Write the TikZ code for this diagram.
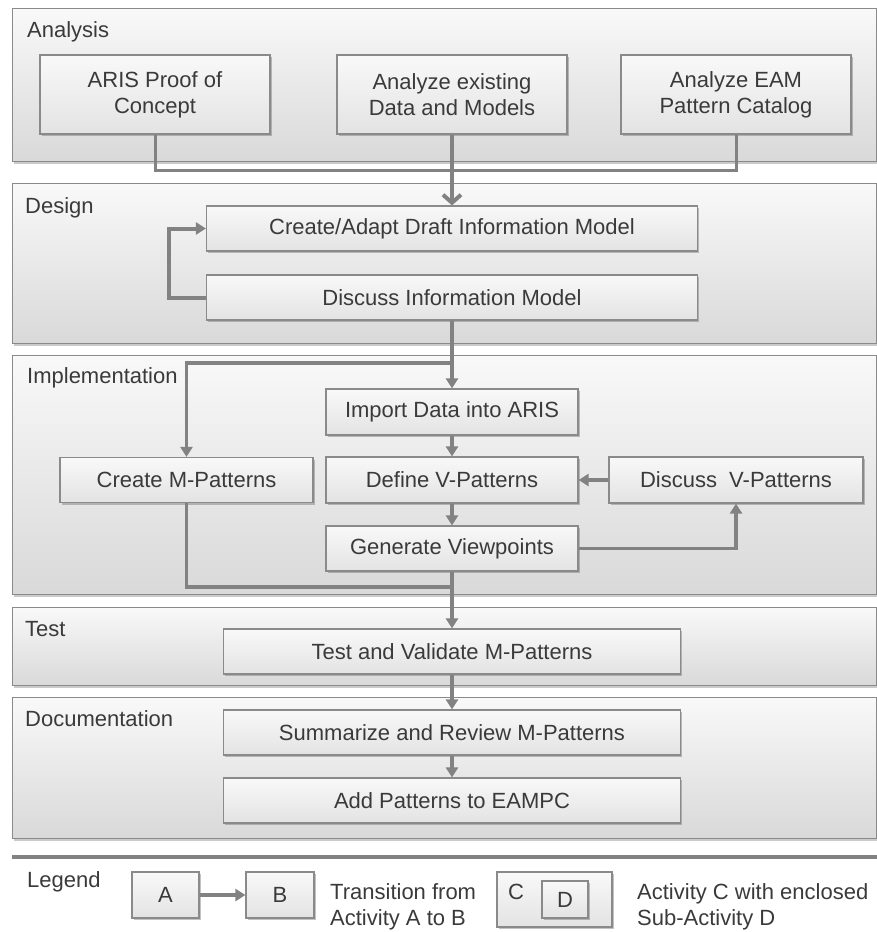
\documentclass[tikz,border=0pt]{standalone}
\usepackage{fontspec}
\setmainfont{Liberation Sans}
\usepackage{tikz}
\usetikzlibrary{arrows.meta, positioning, shadows, calc}
\definecolor{txt}{HTML}{3A3A3A}
\definecolor{wire}{HTML}{828282}
\definecolor{rim}{HTML}{8A8A8A}

\begin{document}
\begin{tikzpicture}[
  x=1pt, y=-1pt,
  font=\fontsize{22}{26}\selectfont,
  lane/.style={draw=rim, line width=1.4pt, top color=gray!5, bottom color=gray!30,
               anchor=north west, inner sep=0pt,
               drop shadow={shadow xshift=1.5pt, shadow yshift=-2pt, opacity=.35, fill=black!60}},
  lanetitle/.style={anchor=base west, inner sep=0pt, text=txt},
  act/.style={draw=rim, line width=1.2pt, top color=gray!5, bottom color=gray!22,
              align=center, inner sep=0pt, text=txt,
              drop shadow={shadow xshift=1.5pt, shadow yshift=-2pt, opacity=.4, fill=black!60}},
  flow/.style={draw=wire, line width=3.5pt, -{Triangle[length=10pt, width=12pt]}},
  link/.style={draw=wire, line width=3pt},
  note/.style={anchor=west, inner sep=0pt, align=left, text=txt}
]
\useasboundingbox (0,0) rectangle (877,932);

% phases
\node[lane, minimum width=864pt, minimum height=153pt] (ana) at (12,8)   {};
\node[lane, minimum width=864pt, minimum height=160pt] (des) at (12,183) {};
\node[lane, minimum width=864pt, minimum height=239pt] (imp) at (12,355) {};
\node[lane, minimum width=864pt, minimum height=78pt]  (tst) at (12,607) {};
\node[lane, minimum width=864pt, minimum height=141pt] (doc) at (12,697) {};

\node[lanetitle] (anaT) at (27,37)  {Analysis};
\node[lanetitle] (desT) at (25,213) {Design};
\node[lanetitle] (impT) at (27,383) {Implementation};
\node[lanetitle] (tstT) at (25,636) {Test};
\node[lanetitle] (docT) at (25,726) {Documentation};

% analysis
\node[act, minimum width=230pt, minimum height=79pt] (proof) at (155,94.5) {ARIS Proof of\\Concept};
\node[act, minimum width=230pt, minimum height=79pt] (exist) at (452,94.5) {Analyze existing\\Data and Models};
\node[act, minimum width=230pt, minimum height=79pt] (eam)   at (736,94.5) {Analyze EAM\\Pattern Catalog};

% design
\node[act, minimum width=491pt, minimum height=45pt] (draft) at (452,228.5) {Create/Adapt Draft Information Model};
\node[act, minimum width=491pt, minimum height=45pt] (discm) at (452,297.5) {Discuss Information Model};

% implementation
\node[act, minimum width=252pt, minimum height=46pt] (import) at (452,412)   {Import Data into ARIS};
\node[act, minimum width=252pt, minimum height=46pt] (vdef)   at (452,480)   {Define V-Patterns};
\node[act, minimum width=253pt, minimum height=45pt] (mpat)   at (186.5,480) {Create M-Patterns};
\node[act, minimum width=254pt, minimum height=46pt] (vdisc)  at (736,480)   {Discuss\ \ V-Patterns};
\node[act, minimum width=252pt, minimum height=45pt] (gen)    at (452,548.5) {Generate Viewpoints};

% test and documentation
\node[act, minimum width=457pt, minimum height=45pt] (test) at (452,651.5) {Test and Validate M-Patterns};
\node[act, minimum width=457pt, minimum height=45pt] (summ) at (452,732.5) {Summarize and Review M-Patterns};
\node[act, minimum width=457pt, minimum height=45pt] (addp) at (452,800.5) {Add Patterns to EAMPC};

% transitions
\coordinate (join)  at (452,170);
\coordinate (split) at (452,363);
\coordinate (merge) at (452,587);

\draw[link] (proof.south) |- (join) -| (eam.south);
\draw[flow, -{Straight Barb[length=8pt, width=18pt]}, line width=4pt] (exist.south) -- (draft.north);
\draw[flow, line width=4pt] (discm.west) -- ++(-37,0) |- (draft.west);

\draw[flow] (discm.south) -- (import.north);
\draw[flow] (split) -| (mpat.north);
\draw[flow] (import) -- (vdef);
\draw[flow] (vdef) -- (gen);
\draw[flow] (vdisc) -- (vdef);
\draw[flow] (gen.east) -| (vdisc.south);
\draw[link, line width=3.5pt] (mpat.south) |- (merge);
\draw[flow] (gen.south) -- (test.north);

\draw[flow] (test) -- (summ);
\draw[flow] (summ) -- (addp);

% legend
\coordinate (lgL) at (12,857);
\coordinate (lgR) at (877,857);
\draw[draw=wire, line width=4pt] (lgL) -- (lgR);

\node[lanetitle] (lgT) at (27,887) {Legend};
\node[act, minimum width=67pt, minimum height=46pt] (a) at (165.5,895) {A};
\node[act, minimum width=68pt, minimum height=46pt] (b) at (280,895)   {B};
\draw[flow] (a) -- (b);
\node[note] (abT) at (330,907) {Transition from\\Activity A to B};

\node[act, minimum width=115pt, minimum height=55pt] (c) at (554.5,899.5) {};
\node[anchor=center, inner sep=0pt, text=txt] (cT) at (516,892) {C};
\node[act, minimum width=46pt, minimum height=37pt] (d) at (565,899.5) {D};
\node[note] (cdT) at (637,907) {Activity C with enclosed\\Sub-Activity D};

\end{tikzpicture}
\end{document}
